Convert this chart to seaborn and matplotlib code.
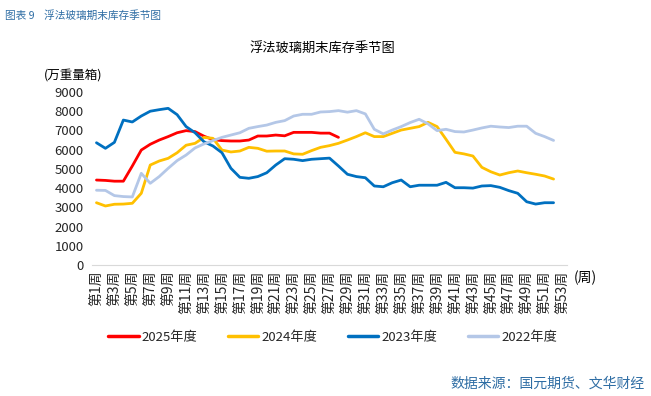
import numpy as np
import pandas as pd
import matplotlib
matplotlib.use("Agg")
import matplotlib.pyplot as plt
import seaborn as sns

# 浮法玻璃期末库存季节图 (万重量箱)
y2025 = [4420, 4400, 4360, 4360, 5150, 5980, 6280, 6500, 6680, 6880,
         6990, 6940, 6700, 6520, 6470, 6450, 6450, 6500, 6710, 6710,
         6760, 6720, 6900, 6900, 6900, 6860, 6860, 6640]
y2024 = [3240, 3070, 3160, 3170, 3210, 3730, 5200, 5410, 5550, 5840,
         6230, 6330, 6640, 6590, 5980, 5880, 5930, 6120, 6070, 5920,
         5930, 5930, 5780, 5760, 5950, 6120, 6210, 6330, 6500, 6680,
         6880, 6680, 6680, 6850, 7020, 7110, 7200, 7420, 7200, 6540,
         5860, 5780, 5670, 5080, 4850, 4680, 4800, 4890, 4800, 4720,
         4630, 4470]
y2023 = [6360, 6070, 6380, 7540, 7440, 7750, 8000, 8080, 8150, 7820,
         7200, 6880, 6410, 6190, 5840, 5030, 4560, 4510, 4600, 4800,
         5200, 5530, 5500, 5430, 5500, 5530, 5560, 5150, 4720, 4600,
         4540, 4110, 4070, 4280, 4420, 4070, 4150, 4150, 4150, 4300,
         4020, 4020, 4000, 4110, 4130, 4040, 3870, 3730, 3290, 3170,
         3240, 3240]
y2022 = [3890, 3880, 3610, 3560, 3540, 4770, 4250, 4600, 5030, 5430,
         5720, 6090, 6300, 6470, 6640, 6760, 6880, 7110, 7200, 7280,
         7420, 7510, 7750, 7840, 7840, 7960, 7980, 8030, 7950, 8030,
         7860, 7060, 6820, 7020, 7200, 7410, 7580, 7340, 6990, 7060,
         6940, 6920, 7020, 7130, 7220, 7180, 7150, 7220, 7220, 6850,
         6680, 6480]

years = ["2025年度", "2024年度", "2023年度", "2022年度"]
colors = ["#FF0000", "#FFC000", "#0070C0", "#B4C7E7"]
week_labels = ["第%d周" % w for w in range(1, 54, 2)]

rows = []
for name, vals in zip(years, [y2025, y2024, y2023, y2022]):
    for i, v in enumerate(vals):
        rows.append({"week": i + 1, "year": name, "value": v})
df = pd.DataFrame(rows)

sns.set_style("white")
plt.rcParams['font.family'] = ['Noto Sans CJK SC', 'DejaVu Sans']

fig = plt.figure(figsize=(6.51, 3.96), dpi=100)
ax = fig.add_axes([0.1413, 0.3308, 0.7297, 0.4369])

sns.lineplot(data=df, x="week", y="value", hue="year", hue_order=years,
             palette=colors, linewidth=2.0, ax=ax, legend=False)

ax.set_xlim(0.5, 53.5)
ax.set_ylim(0, 9000)
ax.set_yticks(range(0, 9001, 1000))
ax.set_yticklabels([str(v) for v in range(0, 9001, 1000)], fontsize=9.5)
ax.set_xticks(range(1, 54, 2))
ax.set_xticklabels(week_labels, rotation=90, fontsize=10, va="top")
ax.set_xticks(np.arange(0.5, 54, 1), minor=True)
ax.tick_params(axis="x", which="major", length=0, pad=4)
ax.tick_params(axis="x", which="minor", length=5, color="#D9D9D9", width=0.8)
ax.tick_params(axis="y", length=0, pad=6)
ax.set_xlabel("")
ax.set_ylabel("")
for s in ["top", "right", "left"]:
    ax.spines[s].set_visible(False)
ax.spines["bottom"].set_color("#D9D9D9")
ax.spines["bottom"].set_linewidth(0.8)

fig.text(0.008, 0.975, "图表 9    浮法玻璃期末库存季节图", fontsize=7.7,
         color="#2E6DA4", va="top", ha="left")
fig.text(0.495, 0.878, "浮法玻璃期末库存季节图", fontsize=9.5, color="black",
         ha="center", va="center")
fig.text(0.068, 0.81, "(万重量箱)", fontsize=9, color="black",
         ha="left", va="center")
fig.text(0.882, 0.298, "(周)", fontsize=10, color="black",
         ha="left", va="center")
fig.text(0.991, 0.03, "数据来源：国元期货、文华财经", fontsize=10,
         color="#2E6DA4", ha="right", va="center")

handles = [plt.Line2D([0], [0], color=c, lw=2.5) for c in colors]
fig.legend(handles, years, loc="center", bbox_to_anchor=(0.511, 0.148),
           ncol=4, frameon=False, fontsize=9.5, handlelength=2.3,
           columnspacing=2.3, handletextpad=0.25)

fig.savefig("out.png", dpi=100)
